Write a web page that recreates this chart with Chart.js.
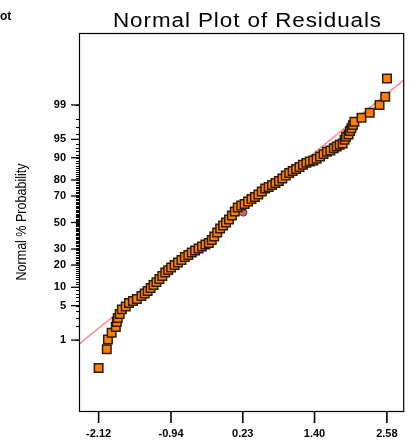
<!DOCTYPE html>
<html>
<head>
<meta charset="utf-8">
<script src="https://cdn.jsdelivr.net/npm/chart.js@4/dist/chart.umd.min.js"></script>
<style>
  body { margin: 0; background: #fff; }
  canvas { display: block; }
</style>
</head>
<body>
<canvas id="grafico" width="413" height="448"></canvas>
<script>
// Valores
const xTicks = [-2.12, -0.94, 0.23, 1.40, 2.58];
const yTickPct = [1, 5, 10, 20, 30, 50, 70, 80, 90, 95, 99];

const residuos = [
  -2.120, -1.987, -1.968, -1.908, -1.840, -1.824, -1.808, -1.777, -1.741, -1.678,
  -1.625, -1.561, -1.497, -1.422, -1.369, -1.321, -1.273, -1.225, -1.178, -1.130,
  -1.082, -1.034, -0.986, -0.938, -0.882, -0.826, -0.770, -0.714, -0.658, -0.602,
  -0.547, -0.491, -0.435, -0.379, -0.323, -0.275, -0.235, -0.187, -0.139, -0.091,
  -0.043, 0.005, 0.053, 0.100, 0.148, 0.204, 0.260, 0.316, 0.372, 0.428,
  0.484, 0.540, 0.596, 0.652, 0.707, 0.763, 0.819, 0.875, 0.931, 0.987,
  1.043, 1.099, 1.155, 1.211, 1.267, 1.323, 1.379, 1.434, 1.490, 1.546,
  1.602, 1.658, 1.714, 1.762, 1.810, 1.858, 1.890, 1.914, 1.954, 1.978,
  2.002, 2.026, 2.050, 2.166, 2.300, 2.460, 2.553, 2.581
];
const probPct = [
  0.20, 0.61, 1.03, 1.46, 1.93, 2.44, 2.93, 3.50, 4.28, 4.82,
  5.55, 6.01, 6.49, 7.28, 7.99, 8.75, 9.73, 10.8, 11.9, 13.2,
  14.5, 16.1, 17.3, 18.6, 20.0, 21.4, 22.9, 24.7, 26.0, 27.6,
  29.0, 30.3, 31.7, 33.2, 34.2, 36.4, 39.1, 42.2, 45.3, 47.6,
  50.0, 52.4, 55.5, 58.6, 61.7, 63.2, 64.3, 66.1, 67.9, 69.3,
  71.0, 73.0, 74.9, 75.9, 77.1, 78.3, 79.4, 80.8, 82.4, 83.6,
  84.6, 85.5, 86.4, 87.3, 88.1, 88.6, 89.0, 89.6, 90.4, 91.2,
  91.9, 92.3, 92.9, 93.4, 93.8, 94.1, 94.9, 95.5, 95.9, 96.5,
  96.9, 97.3, 97.7, 98.1, 98.5, 99.0, 99.36, 99.78
];

const rectaX = [-2.44, 2.86];
const rectaPct = [0.80, 99.76];

const centroX = [0.24];
const centroPct = [57.8];

// Escala normal (probit)
function probit(p){
  const a=[-39.69683028665376,220.9460984245205,-275.9285104469687,138.3577518672690,-30.66479806614716,2.506628277459239];
  const b=[-54.47609879822406,161.5858368580409,-155.6989798598866,66.80131188771972,-13.28068155288572];
  const c=[-0.007784894002430293,-0.3223964580411365,-2.400758277161838,-2.549732539343734,4.374664141464968,2.938163982698783];
  const d=[0.007784695709041462,0.3224671290700398,2.445134137142996,3.754408661907416];
  const pl=0.02425, ph=1-pl;
  if(p<pl){
    const q=Math.sqrt(-2*Math.log(p));
    return (((((c[0]*q+c[1])*q+c[2])*q+c[3])*q+c[4])*q+c[5])/((((d[0]*q+d[1])*q+d[2])*q+d[3])*q+1);
  }
  if(p<=ph){
    const q=p-0.5, r=q*q;
    return (((((a[0]*r+a[1])*r+a[2])*r+a[3])*r+a[4])*r+a[5])*q/(((((b[0]*r+b[1])*r+b[2])*r+b[3])*r+b[4])*r+1);
  }
  const q=Math.sqrt(-2*Math.log(1-p));
  return -(((((c[0]*q+c[1])*q+c[2])*q+c[3])*q+c[4])*q+c[5])/((((d[0]*q+d[1])*q+d[2])*q+d[3])*q+1);
}

const fuente = "'Liberation Sans', Arial, sans-serif";
const mapaEtiquetas = {};
yTickPct.forEach(p => { mapaEtiquetas[probit(p/100).toFixed(4)] = String(p); });

// Marco, marcas de los ejes y textos
const decoracion = {
  id: 'decoracion',
  afterDraw(chart){
    const {ctx, chartArea: ca, scales} = chart;
    ctx.save();
    ctx.strokeStyle = '#000';

    // marco
    ctx.lineWidth = 1.2;
    ctx.strokeRect(ca.left + 0.5, ca.top + 0.5, ca.right - ca.left - 1, ca.bottom - ca.top - 1);

    // marcas eje x
    ctx.lineWidth = 1.6;
    xTicks.forEach(v => {
      const px = scales.x.getPixelForValue(v);
      ctx.beginPath(); ctx.moveTo(px, ca.bottom); ctx.lineTo(px, ca.bottom + 11); ctx.stroke();
    });

    // marcas menores eje y
    ctx.lineWidth = 1;
    for(let p = 1; p <= 99; p++){
      const py = Math.round(scales.y.getPixelForValue(probit(p/100))) + 0.5;
      ctx.beginPath(); ctx.moveTo(ca.left - 3, py); ctx.lineTo(ca.left, py); ctx.stroke();
    }
    // marcas mayores eje y
    ctx.lineWidth = 1.3;
    yTickPct.forEach(p => {
      const py = scales.y.getPixelForValue(probit(p/100));
      ctx.beginPath(); ctx.moveTo(ca.left - 8, py); ctx.lineTo(ca.left, py); ctx.stroke();
    });

    // título (un poco ensanchado como en el original)
    ctx.fillStyle = '#000';
    ctx.font = '19.5px ' + fuente;
    ctx.textAlign = 'center';
    ctx.textBaseline = 'alphabetic';
    ctx.letterSpacing = '0.8px';
    const titulo = 'Normal Plot of Residuals';
    const anchoT = ctx.measureText(titulo).width;
    ctx.save();
    ctx.translate(247.5, 26.5);
    ctx.scale(269 / anchoT, 1);
    ctx.fillText(titulo, 0, 0);
    ctx.restore();
    ctx.letterSpacing = '0px';

    // título eje y (condensado)
    ctx.font = '15.5px ' + fuente;
    const tituloY = 'Normal % Probability';
    const anchoY = ctx.measureText(tituloY).width;
    ctx.save();
    ctx.translate(25.5, 222);
    ctx.rotate(-Math.PI / 2);
    ctx.scale(117 / anchoY, 1);
    ctx.fillText(tituloY, 0, 0);
    ctx.restore();

    // texto cortado arriba a la izquierda
    ctx.font = 'bold 12px ' + fuente;
    ctx.textAlign = 'left';
    ctx.fillText('ot', 0, 20);

    ctx.restore();
  }
};

const ctx = document.getElementById('grafico').getContext('2d');
new Chart(ctx, {
  type: 'scatter',
  data: {
    datasets: [
      {
        label: 'Residuos',
        data: residuos.map((x, i) => ({x, y: probit(probPct[i] / 100)})),
        pointStyle: 'rect',
        pointRadius: 6,
        backgroundColor: '#ff8000',
        borderColor: '#2c1a08',
        borderWidth: 1.5,
        order: 0
      },
      {
        type: 'line',
        label: 'Recta',
        data: rectaX.map((x, i) => ({x, y: probit(rectaPct[i] / 100)})),
        borderColor: '#ff8c8c',
        borderWidth: 1.6,
        pointRadius: 0,
        order: 1
      },
      {
        label: 'Centro',
        data: centroX.map((x, i) => ({x, y: probit(centroPct[i] / 100)})),
        pointStyle: 'circle',
        pointRadius: 3.6,
        backgroundColor: '#c86868',
        borderColor: '#6a3030',
        borderWidth: 1,
        order: 2
      }
    ]
  },
  options: {
    responsive: false,
    animation: false,
    layout: { padding: { top: 33, right: 2, left: 0, bottom: 0 } },
    plugins: { legend: { display: false }, tooltip: { enabled: false }, title: { display: false } },
    scales: {
      x: {
        type: 'linear',
        min: -2.44,
        max: 2.862,
        afterBuildTicks: s => { s.ticks = xTicks.map(v => ({value: v})); },
        afterFit: s => { s.height = 36; },
        grid: { display: false, drawTicks: false },
        border: { display: false },
        ticks: {
          autoSkip: false, maxRotation: 0, padding: 15, color: '#000',
          font: { family: fuente, size: 11, weight: 'bold' },
          callback: v => Number(v).toFixed(2)
        }
      },
      y: {
        type: 'linear',
        min: -3.75,
        max: 3.75,
        afterBuildTicks: s => { s.ticks = yTickPct.map(p => ({value: probit(p / 100)})); },
        afterFit: s => { s.width = 79; },
        grid: { display: false, drawTicks: false },
        border: { display: false },
        ticks: {
          autoSkip: false, padding: 13, color: '#000',
          font: { family: fuente, size: 11, weight: 'bold' },
          callback: v => mapaEtiquetas[Number(v).toFixed(4)] || ''
        }
      }
    }
  },
  plugins: [decoracion]
});
</script>
</body>
</html>
